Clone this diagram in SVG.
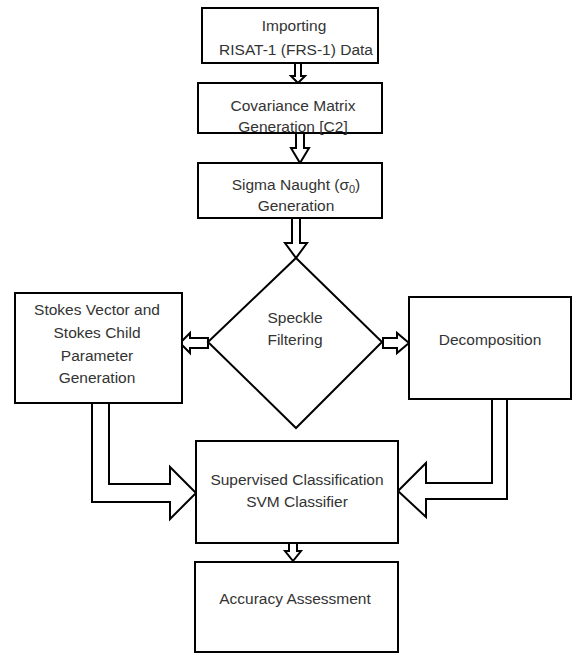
<svg xmlns="http://www.w3.org/2000/svg" width="573" height="654" viewBox="0 0 573 654">
<style>
.box{fill:#fff;stroke:#000;stroke-width:2}
.arr{fill:#fff;stroke:#000;stroke-width:2;stroke-linejoin:miter}
text{font-family:"Liberation Sans",Arial,sans-serif;font-size:15.5px;fill:#333;text-anchor:middle}
</style>
<rect width="573" height="654" fill="#fff"/>
<g id="connectors">
<polygon class="arr" points="295,63 301,63 301,76 305,76 298,83 291,76 295,76"/>
<polygon class="arr" points="296,133 304,133 304,148 309,148 300,163 291,148 296,148"/>
<polygon class="arr" points="292,218 300,218 300,243 307,243 296,258 285,243 292,243"/>
<polygon class="arr" points="208,338 190,338 190,333 180,343 190,353 190,348 208,348"/>
<polygon class="arr" points="383,338 397,338 397,333 409,343 397,353 397,348 383,348"/>
<polygon class="arr" points="92,403 92,502 170,502 170,519 196,493 170,467 170,484 109,484 109,403"/>
<polygon class="arr" points="507,398 507,499 426,499 426,517 398,491 426,463 426,483 492,483 492,398"/>
<polygon class="arr" points="289,543 297,543 297,551 301,551 293,561 285,551 289,551"/>
</g>
<g id="n1"><rect class="box" x="202" y="8" width="176" height="55"/><text x="294" y="31">Importing</text><text x="296" y="55">RISAT-1 (FRS-1) Data</text></g>
<g id="n2"><rect class="box" x="198" y="83" width="184" height="50"/><text x="293" y="111">Covariance Matrix</text><text x="293" y="132">Generation [C2]</text></g>
<g id="n3"><rect class="box" x="198" y="163" width="184" height="55"/><text x="296" y="190">Sigma Naught (σ<tspan font-size="11" dy="3">0</tspan><tspan dy="-3">)</tspan></text><text x="296" y="211">Generation</text></g>
<g id="n4"><polygon class="box" points="296,258 382,342 296,428 208,342"/><text x="295" y="323">Speckle</text><text x="295" y="345">Filtering</text></g>
<g id="n5"><rect class="box" x="15" y="293" width="167" height="110"/><text x="97" y="315">Stokes Vector and</text><text x="97" y="338">Stokes Child</text><text x="97" y="361">Parameter</text><text x="97" y="383">Generation</text></g>
<g id="n6"><rect class="box" x="409" y="297" width="162" height="102"/><text x="490" y="345">Decomposition</text></g>
<g id="n7"><rect class="box" x="196" y="441" width="202" height="102"/><text x="297" y="485">Supervised Classification</text><text x="297" y="507">SVM Classifier</text></g>
<g id="n8"><rect class="box" x="195" y="562" width="203" height="90"/><text x="295" y="604">Accuracy Assessment</text></g>
</svg>
